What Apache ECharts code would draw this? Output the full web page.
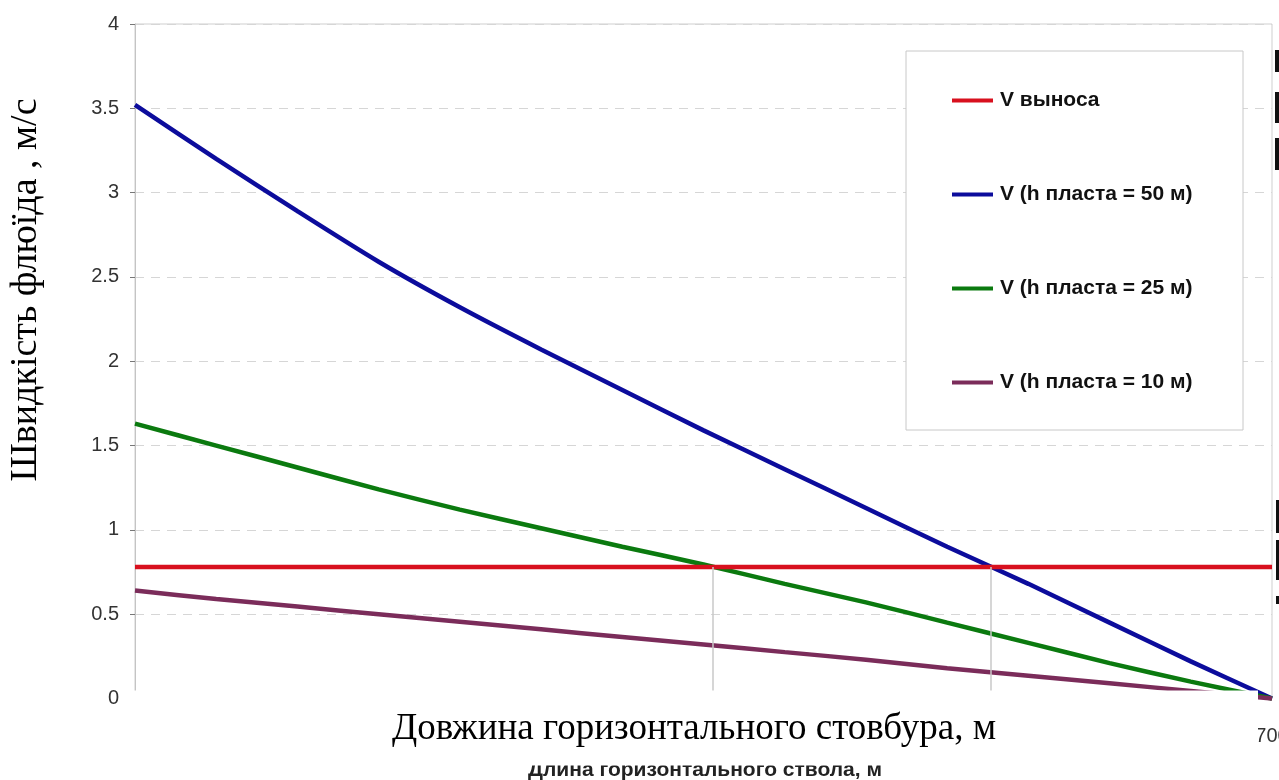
<!DOCTYPE html>
<html>
<head>
<meta charset="utf-8">
<script src="https://cdn.jsdelivr.net/npm/echarts@6/dist/echarts.min.js"></script>
<style>
html,body{margin:0;padding:0;background:#fff;}
#chart{width:1279px;height:780px;}
</style>
</head>
<body>
<div id="chart"></div>
<script>
// Horizontal well length, m
const lengths = [0, 50, 100, 150, 200, 250, 300, 350, 400, 450, 500, 550, 600, 650, 700];
// Series values, m/s
const vVynosa = [0.78, 0.78, 0.78, 0.78, 0.78, 0.78, 0.78, 0.78, 0.78, 0.78, 0.78, 0.78, 0.78, 0.78, 0.78];
const v50 = [3.52, 3.20, 2.89, 2.59, 2.32, 2.07, 1.83, 1.59, 1.36, 1.13, 0.90, 0.68, 0.45, 0.22, 0];
const v25 = [1.63, 1.50, 1.37, 1.24, 1.12, 1.01, 0.90, 0.795, 0.68, 0.57, 0.45, 0.33, 0.21, 0.10, 0];
const v10 = [0.64, 0.59, 0.545, 0.50, 0.455, 0.41, 0.365, 0.32, 0.275, 0.23, 0.18, 0.135, 0.09, 0.045, 0];
// Lengths where V(h) reaches V выноса
const crossLengths = [356, 527];
const crossLevel = 0.78;

const seriesNames = ['V выноса', 'V (h пласта = 50 м)', 'V (h пласта = 25 м)', 'V (h пласта = 10 м)'];
const yTicks = [0, 0.5, 1, 1.5, 2, 2.5, 3, 3.5, 4];
const xTitleUa = 'Довжина горизонтального стовбура, м';
const xTitleRu = 'Длина горизонтального ствола, м';
const yTitleUa = 'Швидкість флюїда , м/с';

const colors = ['#d8101e', '#0c0c9c', '#0b7a0f', '#7b2c5a'];
const pair = arr => lengths.map((x, i) => [x, arr[i]]);

const chart = echarts.init(document.getElementById('chart'), null, {renderer: 'canvas'});
const sans = '"Liberation Sans", Arial, sans-serif';
const serif = '"Liberation Serif", "Times New Roman", serif';

function lineSeries(name, arr, color, extra) {
  return Object.assign({
    name: name,
    type: 'line',
    data: pair(arr),
    showSymbol: false,
    symbol: 'none',
    smooth: 0.25,
    lineStyle: {color: color, width: 4.5},
    itemStyle: {color: color},
    clip: false,
    z: 3
  }, extra || {});
}

chart.setOption({
  animation: false,
  backgroundColor: '#ffffff',
  grid: {
    left: 135, right: 7, top: 24, bottom: 81.5,
    outerBoundsMode: 'none',
    containLabel: false,
    show: true, borderColor: '#cfcfcf', borderWidth: 1, backgroundColor: 'transparent'
  },
  xAxis: {
    type: 'value', min: 0, max: 700, interval: 100,
    axisLine: {show: true, lineStyle: {color: '#bbb'}},
    axisTick: {show: false},
    splitLine: {show: false},
    axisLabel: {fontFamily: sans, fontSize: 20, color: '#333', margin: 28, showMaxLabel: true, hideOverlap: false}
  },
  yAxis: {
    type: 'value', min: yTicks[0], max: yTicks[yTicks.length - 1], interval: 0.5,
    axisLine: {show: true, lineStyle: {color: '#c4c4c4', width: 1}},
    axisTick: {show: true, length: 5, lineStyle: {color: '#777'}},
    splitLine: {show: true, lineStyle: {color: '#d6d6d6', type: [9, 7], width: 1}},
    axisLabel: {fontFamily: sans, fontSize: 20, color: '#333', margin: 16}
  },
  legend: {
    orient: 'vertical',
    left: 906, top: 51,
    data: seriesNames,
    icon: 'rect',
    itemWidth: 41, itemHeight: 4,
    itemGap: 73,
    padding: [39, 43, 37, 46],
    backgroundColor: '#ffffff',
    borderColor: '#c8c8c8', borderWidth: 1,
    textStyle: {fontFamily: sans, fontWeight: 'bold', fontSize: 21, color: '#111', lineHeight: 20, width: 200, padding: [0, 0, 0, 2]},
    itemStyle: {borderWidth: 0}
  },
  series: [
    lineSeries(seriesNames[0], vVynosa, colors[0], {
      smooth: false,
      markLine: {
        silent: true, symbol: 'none', label: {show: false},
        lineStyle: {color: '#c9c9c9', width: 1.5, type: 'solid'},
        data: crossLengths.map(x => [{coord: [x, crossLevel]}, {coord: [x, 0]}])
      },
      z: 4
    }),
    lineSeries(seriesNames[1], v50, colors[1]),
    lineSeries(seriesNames[2], v25, colors[2]),
    lineSeries(seriesNames[3], v10, colors[3])
  ],
  graphic: [
    {type: 'text', x: 705, y: 781, z: 100,
     style: {text: xTitleRu, font: 'bold 21px ' + sans, fill: '#222', textAlign: 'center', textVerticalAlign: 'bottom'}},
    {type: 'rect', z: 101, shape: {x: 125, y: 690.5, width: 1133, height: 75}, style: {fill: '#ffffff'}},
    {type: 'text', x: 694, y: 729, z: 102,
     style: {text: xTitleUa, font: '37px ' + serif, fill: '#000', textAlign: 'center', textVerticalAlign: 'middle'}},
    {type: 'text', x: 26, y: 290, rotation: Math.PI / 2, z: 102,
     style: {text: yTitleUa, font: '38px ' + serif, fill: '#000', textAlign: 'center', textVerticalAlign: 'middle'}},
    {type: 'rect', z: 103, shape: {x: 1275, y: 50, width: 4, height: 22}, style: {fill: '#111'}},
    {type: 'rect', z: 103, shape: {x: 1275, y: 92, width: 4, height: 31}, style: {fill: '#111'}},
    {type: 'rect', z: 103, shape: {x: 1275, y: 138, width: 4, height: 32}, style: {fill: '#111'}},
    {type: 'rect', z: 103, shape: {x: 1276, y: 500, width: 3, height: 33}, style: {fill: '#111'}},
    {type: 'rect', z: 103, shape: {x: 1276, y: 540, width: 3, height: 40}, style: {fill: '#111'}},
    {type: 'rect', z: 103, shape: {x: 1276, y: 596, width: 3, height: 8}, style: {fill: '#111'}}
  ]
});
</script>
</body>
</html>
